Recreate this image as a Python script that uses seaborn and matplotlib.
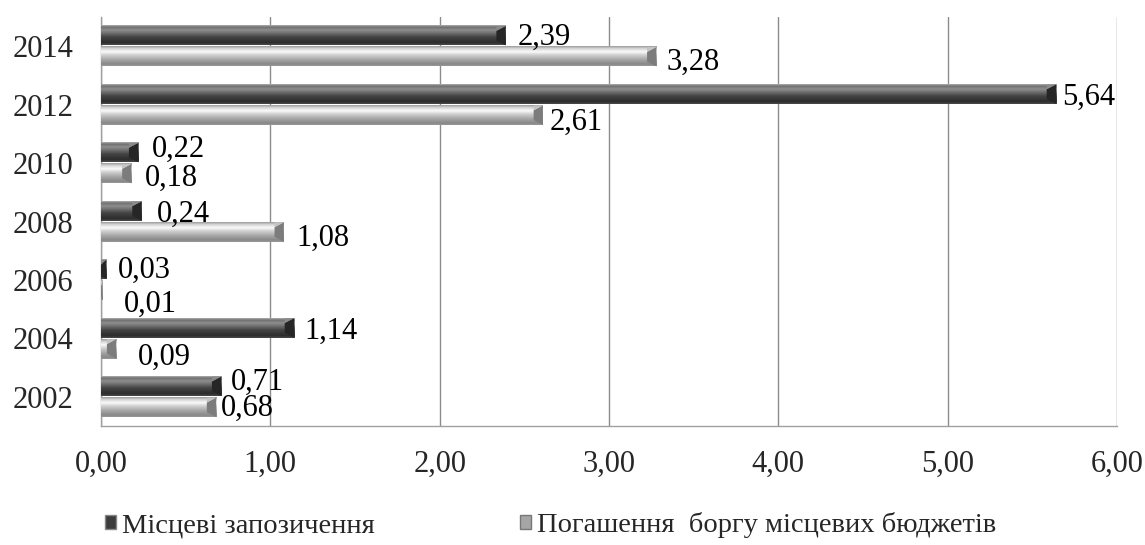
import numpy as np
import pandas as pd
import matplotlib
matplotlib.use("Agg")
import matplotlib.pyplot as plt
from matplotlib.patches import Patch
from matplotlib.colors import LinearSegmentedColormap
import seaborn as sns

years = ["2014", "2012", "2010", "2008", "2006", "2004", "2002"]
borrowing = [2.39, 5.64, 0.22, 0.24, 0.03, 1.14, 0.71]
repayment = [3.28, 2.61, 0.18, 1.08, 0.01, 0.09, 0.68]
series_names = ["Місцеві запозичення", "Погашення  боргу місцевих бюджетів"]
x_ticks = [0, 1, 2, 3, 4, 5, 6]

# hand-placed value label offsets (pixels right / down from the bar end)
label_dx_dark = [12, 6, 14, 15, 12, 10, 10]
label_dy_dark = [-1, 0, -6, 0, -2, 0, -7]
label_dx_light = [10, 7, 13, 13, 21, 22, 5]
label_dy_light = [3, 4, 2, 3, 11, 5, -2]

df = pd.DataFrame({
    "year": years * 2,
    "value": borrowing + repayment,
    "series": [series_names[0]] * len(years) + [series_names[1]] * len(years),
})

sns.set_theme(style="white")
plt.rcParams["font.family"] = ["Liberation Serif", "DejaVu Serif"]

fig = plt.figure(figsize=(11.45, 5.45), dpi=100)
ax = fig.add_axes([0.0882, 0.2183, 0.8873, 0.7505])

base = {series_names[0]: "#3c3c3c", series_names[1]: "#a6a6a6"}
sns.barplot(data=df, y="year", x="value", hue="series", order=years,
            hue_order=series_names, palette=base, orient="h",
            width=0.72, gap=0.08, ax=ax, legend=False, saturation=1)

# cylinder-like shading for each series (top -> bottom of a bar)
dark_cmap = LinearSegmentedColormap.from_list(
    "dark", [(0.0, "#b0b0b0"), (0.1, "#707070"), (0.25, "#8e8e8e"),
             (0.42, "#6a6a6a"), (0.6, "#444444"), (0.88, "#2c2c2c"), (1.0, "#4a4a4a")])
light_cmap = LinearSegmentedColormap.from_list(
    "light", [(0.0, "#9a9a9a"), (0.12, "#d4d4d4"), (0.28, "#fbfbfb"),
              (0.45, "#d0d0d0"), (0.7, "#a4a4a4"), (0.9, "#888888"), (1.0, "#989898")])

grad = np.linspace(0, 1, 128).reshape(-1, 1)
n = len(years)
bars = list(ax.patches)[: 2 * n]
px2pt = 72 / fig.dpi
for i, patch in enumerate(bars):
    dark = i < n
    cmap = dark_cmap if dark else light_cmap
    x0, y0 = patch.get_x(), patch.get_y()
    w, h = patch.get_width(), patch.get_height()
    patch.set_edgecolor("none")
    if w > 0:
        ax.imshow(grad, cmap=cmap, aspect="auto", vmin=0, vmax=1,
                  extent=(x0, x0 + w, y0 + h, y0), zorder=3,
                  interpolation="bilinear")
        # beveled end cap
        cap = min(0.055, w)
        ax.fill([x0 + w - cap, x0 + w, x0 + w, x0 + w - cap],
                [y0 + h * 0.25, y0, y0 + h, y0 + h * 0.75],
                color=("#262626" if dark else "#7c7c7c"), zorder=4, lw=0)
        ax.fill([x0 + w - cap, x0 + w, x0 + w - cap],
                [y0 + h * 0.25, y0, y0],
                color=("#8a8a8a" if dark else "#c4c4c4"), zorder=4, lw=0)

    k = i % n
    dx = label_dx_dark[k] if dark else label_dx_light[k]
    dy = label_dy_dark[k] if dark else label_dy_light[k]
    ax.annotate(f"{w:.2f}".replace(".", ","),
                xy=(x0 + w, y0 + h / 2), xytext=(dx * px2pt, -(dy + 3) * px2pt),
                textcoords="offset points", ha="left", va="center",
                fontsize=22, color="black", zorder=5)

ax.set_xlim(0, 6)
ax.set_ylim(6.5, -0.5)
ax.set_xticks(x_ticks)
ax.set_xticklabels([f"{t:.2f}".replace(".", ",") for t in x_ticks], fontsize=22)
ax.tick_params(axis="y", labelsize=22, length=0, pad=20)
ax.tick_params(axis="x", length=0, pad=17)
ax.set_xlabel("")
ax.set_ylabel("")
ax.xaxis.grid(True, color="#8c8c8c", lw=1)
ax.set_axisbelow(True)
for s in ["top", "right"]:
    ax.spines[s].set_visible(False)
for s in ["left", "bottom"]:
    ax.spines[s].set_color("#a0a0a0")
    ax.spines[s].set_linewidth(1)

handles = [Patch(facecolor="#3c3c3c", edgecolor="#888888"),
           Patch(facecolor="#a6a6a6", edgecolor="#777777")]
fig.legend(handles, series_names, loc="center left",
           bbox_to_anchor=(0.0917, 1 - 525 / 545),
           ncol=2, frameon=False, fontsize=20.5, handlelength=0.4, handleheight=0.4,
           handletextpad=0.2, columnspacing=5.1, borderpad=0, borderaxespad=0)

fig.savefig("out.png", dpi=100, facecolor="white")
